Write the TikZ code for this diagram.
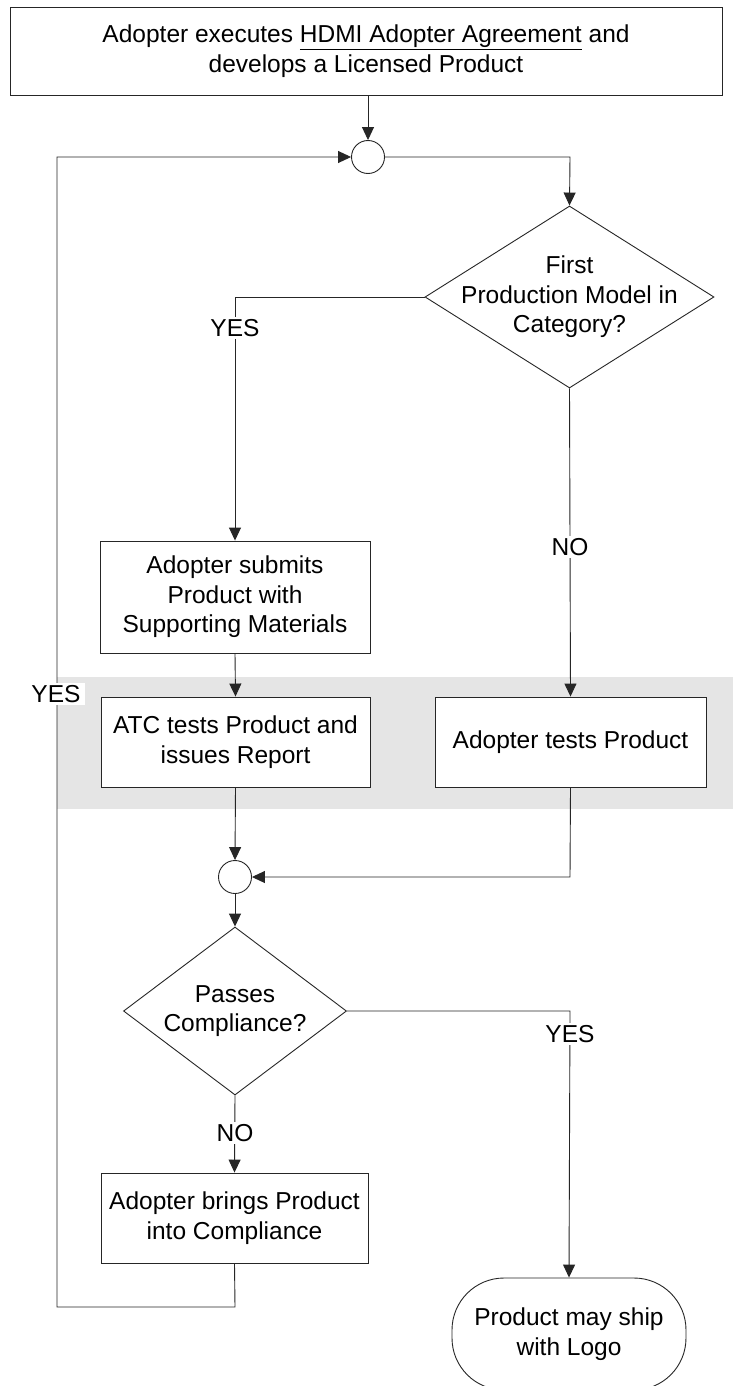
\documentclass[tikz,border=0pt]{standalone}
\usepackage{fontspec}
\setmainfont{Liberation Sans}
\usetikzlibrary{arrows.meta,shapes.geometric}
\begin{document}
\begin{tikzpicture}[x=1pt,y=-1pt,
  every node/.style={font=\fontsize{24.5}{29.5}\selectfont},
  line/.style={draw=black!85, line width=0.9pt},
  arr/.style={line, -{Triangle[length=13pt,width=12pt]}},
  procbox/.style={draw=black!85, line width=0.9pt, fill=white, align=center, inner sep=0pt},
  junction/.style={draw=black!85, line width=0.9pt, circle, fill=white, minimum size=33pt, inner sep=0pt},
  decision/.style={draw=black!85, line width=0.9pt, diamond, fill=white, inner sep=0pt},
  lbl/.style={fill=white, inner sep=2pt},
  term/.style={draw=black!85, line width=0.9pt, rounded corners=52pt, fill=white, align=center, inner sep=0pt}
]
\useasboundingbox (0,0) rectangle (733,1386);
\fill[white] (0,0) rectangle (733,1386);
% gray band
\fill[black!10] (57,677) rectangle (733,809);

\node[procbox, minimum width=712pt, minimum height=88pt] (top) at (366,51)
  {Adopter executes \underline{HDMI Adopter Agreement} and\\develops a Licensed Product};
\node[junction] (j1) at (368,157) {};
\node[decision, minimum width=289pt, minimum height=182pt] (d1) at (569.5,297) {};
\node[align=center] (d1t) at (d1.center) {First\\Production Model in\\Category?};

\node[procbox, minimum width=270pt, minimum height=112pt] (sub) at (235,597)
  {Adopter submits\\Product with\\Supporting Materials};
\node[procbox, minimum width=269pt, minimum height=90pt] (atc) at (235.5,742)
  {ATC tests Product and\\issues Report};
\node[procbox, minimum width=271pt, minimum height=90pt] (adt) at (570.5,742)
  {Adopter tests Product};

\node[junction] (j2) at (235,877) {};
\node[decision, minimum width=223pt, minimum height=168pt] (d2) at (235,1011) {};
\node[align=center] (d2t) at (d2.center) {Passes\\Compliance?};

\node[procbox, minimum width=267pt, minimum height=90pt] (fix) at (234.5,1218)
  {Adopter brings Product\\into Compliance};
\node[term, minimum width=234pt, minimum height=112pt] (ship) at (569,1334)
  {Product may ship\\with Logo};

\coordinate (c1) at (570,157);
\coordinate (c2) at (235,297);
\coordinate (c3) at (570,877);
\coordinate (c4) at (570,1011);
\coordinate (c5) at (235,1307);
\coordinate (c6) at (57,1307);
\coordinate (c7) at (57,157);

% connectors
\draw[arr] (top.south -| j1) -- (j1.north);
\draw[arr] (j1.east) -- (c1) -- (d1.north);
\draw[arr] (d1.west) -- (c2) -- (sub.north);
\draw[arr] (d1.south) -- (adt.north);
\draw[arr] (sub.south) -- (atc.north);
\draw[arr] (atc.south) -- (j2.north);
\draw[arr] (adt.south) -- (c3) -- (j2.east);
\draw[arr] (j2.south) -- (d2.north);
\draw[arr] (d2.east) -- (c4) -- (ship.north);
\draw[arr] (d2.south) -- (fix.north);
\draw[arr] (fix.south) -- (c5) -- (c6) -- (c7) -- (j1.west);

% labels
\node[lbl] (yes1) at (235,328) {YES};
\node[lbl] (no1) at (570,547) {NO};
\node[lbl] (yes2) at (570,1034) {YES};
\node[lbl] (no2) at (235,1133) {NO};
\node[lbl, inner xsep=4pt] (yes3) at (56,694) {YES};
\end{tikzpicture}
\end{document}
